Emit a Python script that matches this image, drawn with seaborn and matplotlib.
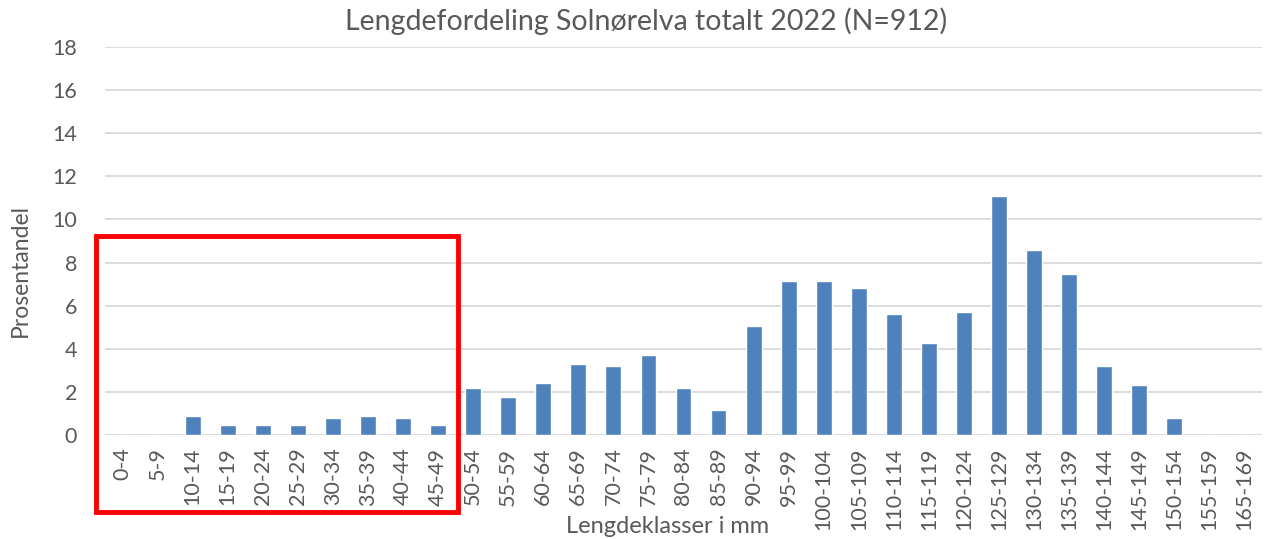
import matplotlib
matplotlib.use("Agg")
import matplotlib.pyplot as plt
import seaborn as sns
from matplotlib.patches import Rectangle

# Lengdeklasser (mm) og prosentandel
lengdeklasser = ['0-4', '5-9', '10-14', '15-19', '20-24', '25-29', '30-34', '35-39',
                 '40-44', '45-49', '50-54', '55-59', '60-64', '65-69', '70-74', '75-79',
                 '80-84', '85-89', '90-94', '95-99', '100-104', '105-109', '110-114',
                 '115-119', '120-124', '125-129', '130-134', '135-139', '140-144',
                 '145-149', '150-154', '155-159', '165-169']
prosentandel = [0, 0, 0.90, 0.48, 0.48, 0.48, 0.80, 0.90, 0.80, 0.48,
                2.18, 1.74, 2.40, 3.29, 3.18, 3.72, 2.18, 1.18, 5.05, 7.14,
                7.14, 6.81, 5.60, 4.27, 5.71, 11.10, 8.58, 7.47, 3.18, 2.31,
                0.78, 0, 0]
y_ticks = [0, 2, 4, 6, 8, 10, 12, 14, 16, 18]

sns.set_style("white")
plt.rcParams['font.family'] = ['Lato', 'DejaVu Sans']
tekstfarge = '#595959'

fig = plt.figure(figsize=(12.66, 5.39), dpi=100)
ax = fig.add_axes([105/1266, 1 - 435/539, 1157/1266, 388/539])

sns.barplot(x=lengdeklasser, y=prosentandel, color='#4F81BD', saturation=1,
            width=0.45, ax=ax, zorder=3)

ax.set_ylim(0, 18)
ax.set_xlim(-0.5, len(lengdeklasser) - 0.5)
ax.set_yticks(y_ticks)
ax.yaxis.grid(True, color='#D9D9D9', linewidth=1.3, zorder=0)
ax.set_axisbelow(True)
for s in ax.spines.values():
    s.set_visible(False)

ax.tick_params(axis='y', length=0, pad=20, labelsize=15.5, labelcolor=tekstfarge)
ax.tick_params(axis='x', length=0, pad=9, labelsize=15.5, labelcolor=tekstfarge,
               labelrotation=90)

ax.set_title('Lengdefordeling Solnørelva totalt 2022 (N=912)', fontsize=20.5,
             color=tekstfarge, x=0.4676, y=1.044, va='center')
ax.set_xlabel('Lengdeklasser i mm', fontsize=17, color=tekstfarge)
ax.xaxis.set_label_coords(0.486, -0.237)
ax.xaxis.label.set_va('center')
ax.set_ylabel('Prosentandel', fontsize=16.5, color=tekstfarge)
ax.yaxis.set_label_coords(-0.0735, 0.425)
ax.yaxis.label.set_va('center')

# rød markering rundt de minste lengdeklassene
rekt = Rectangle((96/1266, 1 - 512/539), (458 - 96)/1266, (512 - 236)/539,
                 transform=fig.transFigure, fill=False, edgecolor='#FF0000',
                 linewidth=3.5, clip_on=False, zorder=10)
fig.patches.append(rekt)

fig.savefig('out.png', dpi=100)
plt.close(fig)
